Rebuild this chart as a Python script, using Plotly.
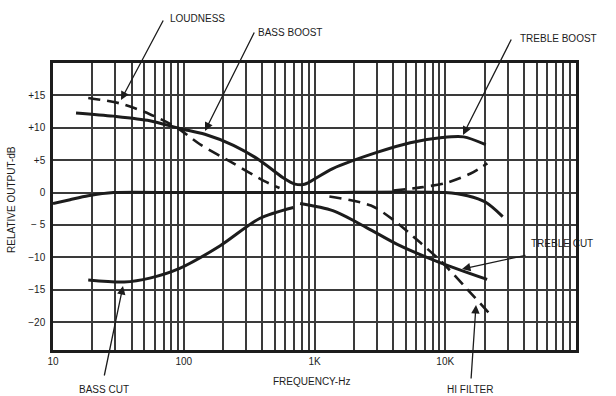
import plotly.graph_objects as go

# ---- data (frequency in Hz, relative output in dB) ----
flat_f = [10, 13.5, 18.6, 29, 100, 1000, 10000, 14800, 20400, 27500]
flat_db = [-1.7, -1.1, -0.5, 0, 0, 0, 0, -0.5, -1.5, -3.7]

bass_boost_f = [15, 29, 55, 93, 145, 240, 380, 575, 710, 800]
bass_boost_db = [12.3, 11.8, 11.1, 9.9, 9.0, 7.3, 5.0, 2.3, 1.3, 1.2]

treble_boost_f = [800, 870, 1380, 3000, 5400, 9500, 13800, 20400]
treble_boost_db = [1.2, 1.4, 3.7, 6.2, 7.7, 8.5, 8.6, 7.4]

loud_f = [18.6, 32, 55, 89, 132, 240, 410, 540, None, 4000, 6500, 10200, 15500, 21000]
loud_db = [14.6, 13.8, 12.1, 10.0, 7.5, 4.5, 1.8, 0.7, None, 0.3, 0.8, 1.5, 2.9, 4.5]

bass_cut_f = [18.6, 35, 55, 93, 190, 380, 690]
bass_cut_db = [-13.5, -13.8, -13.2, -11.7, -8.2, -4.0, -2.3]

treble_cut_f = [776, 1380, 2500, 4500, 9100, 20900]
treble_cut_db = [-1.7, -2.8, -5.4, -8.2, -10.8, -13.4]

hi_filter_f = [1300, 2700, 4000, 6500, 9500, 14100, 21400]
hi_filter_db = [-0.6, -2.0, -4.2, -7.8, -10.8, -14.5, -18.5]

x_tickvals = [10, 100, 1000, 10000]
x_ticktext = ["10", "100", "1K", "10K"]
y_tickvals = [15, 10, 5, 0, -5, -10, -15, -20]
y_ticktext = ["+15", "+10", "+5", "0", "\u2212 5", "\u221210", "\u221215", "\u221220"]

minor_vals = [m * 10 ** d for d in range(1, 5) for m in range(2, 10)]

INK = "#1c1c1c"
GRID = "#3a3a3a"
FONT = "Liberation Sans"

fig = go.Figure()

def solid(xs, ys):
    fig.add_trace(go.Scatter(x=xs, y=ys, mode="lines", line=dict(color=INK, width=3, shape="spline", smoothing=0.8),
                             showlegend=False, hoverinfo="skip"))

def dashed(xs, ys):
    fig.add_trace(go.Scatter(x=xs, y=ys, mode="lines", line=dict(color=INK, width=2.6, dash="12px,7px", shape="spline", smoothing=0.8),
                             showlegend=False, hoverinfo="skip", connectgaps=False))

dashed(loud_f, loud_db)
dashed(hi_filter_f, hi_filter_db)
solid(flat_f, flat_db)
solid(bass_boost_f, bass_boost_db)
solid(treble_boost_f, treble_boost_db)
solid(bass_cut_f, bass_cut_db)
solid(treble_cut_f, treble_cut_db)

W, H = 616, 396
L, R, T, B = 53, 576, 63, 350

def px(xp):
    return (xp - L) / (R - L)

def py(yp):
    return (B - yp) / (B - T)

annotations = []
labels = [
    ("LOUDNESS", 197, 19),
    ("BASS BOOST", 290, 33),
    ("TREBLE BOOST", 558, 38),
    ("TREBLE CUT", 562, 243),
    ("BASS CUT", 104, 389),
    ("HI FILTER", 470, 389),
]
for txt, xp, yp in labels:
    annotations.append(dict(text=txt, x=px(xp), y=py(yp), xref="paper", yref="paper", showarrow=False,
                             xanchor="center", yanchor="middle", font=dict(family=FONT, size=10, color=INK)))
arrows = [
    (164, 19, 121, 100),
    (255, 31, 205, 131),
    (512, 38, 463, 135),
    (527, 255, 462, 269),
    (104, 377, 123, 286),
    (471, 380, 476, 305),
]
for tx, ty, hx, hy in arrows:
    annotations.append(dict(text="", x=px(hx), y=py(hy), xref="paper", yref="paper", showarrow=True,
                             ax=tx - hx, ay=ty - hy, axref="pixel", ayref="pixel",
                             arrowhead=2, arrowsize=1.3, arrowwidth=1.3, arrowcolor=INK, standoff=0))

annotations.append(dict(text="FREQUENCY-Hz", x=px(311), y=py(381), xref="paper", yref="paper", showarrow=False,
                        xanchor="center", yanchor="middle", font=dict(family=FONT, size=10, color=INK)))
annotations.append(dict(text="RELATIVE OUTPUT-dB", x=px(11), y=py(200), xref="paper", yref="paper", showarrow=False,
                        xanchor="center", yanchor="middle", textangle=-90, font=dict(family=FONT, size=10, color=INK)))

fig.update_layout(
    width=W, height=H,
    margin=dict(l=L, r=W - R, t=T, b=H - B, pad=0),
    paper_bgcolor="white", plot_bgcolor="white",
    annotations=annotations,
    font=dict(family=FONT, size=10, color=INK),
)
fig.update_xaxes(
    type="log", range=[1, 5],
    tickmode="array", tickvals=x_tickvals, ticktext=x_ticktext,
    ticks="", ticklen=0, showgrid=True, gridcolor=GRID, gridwidth=2,
    minor=dict(tickmode="array", tickvals=minor_vals, showgrid=True, gridcolor=GRID, gridwidth=1.8, ticks=""),
    showline=True, linecolor=INK, linewidth=2.5, mirror=True, zeroline=False,
    tickfont=dict(family=FONT, size=10, color=INK),
)
fig.update_yaxes(
    range=[-24.3, 20],
    tickmode="array", tickvals=y_tickvals, ticktext=y_ticktext,
    ticks="outside", ticklen=3, tickcolor="rgba(0,0,0,0)",
    showgrid=True, gridcolor=GRID, gridwidth=2,
    showline=True, linecolor=INK, linewidth=2.5, mirror=True, zeroline=False,
    tickfont=dict(family=FONT, size=10, color=INK),
)

fig.write_html("out.html", config={"displayModeBar": False},
               post_script="document.body.style.margin='0';document.body.style.overflow='hidden';")
